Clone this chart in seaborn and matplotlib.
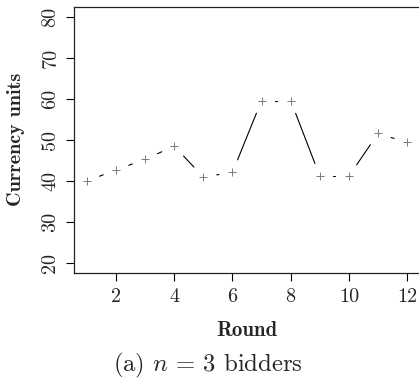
import numpy as np
import pandas as pd
import matplotlib
matplotlib.use("Agg")
import matplotlib.pyplot as plt
import seaborn as sns

# Mean bid per round, three-bidder sessions
rounds = [1, 2, 3, 4, 5, 6, 7, 8, 9, 10, 11, 12]
bids = [40.0, 42.7, 45.3, 48.5, 41.0, 42.1, 59.6, 59.6, 41.2, 41.2, 51.6, 49.4]
x_ticks = [2, 4, 6, 8, 10, 12]
y_ticks = [20, 30, 40, 50, 60, 70, 80]

sns.set_style("ticks")
plt.rcParams["font.family"] = ["cmr10"]
plt.rcParams["mathtext.fontset"] = "cm"
plt.rcParams["axes.formatter.use_mathtext"] = True

W, H = 419, 383
fig = plt.figure(figsize=(W / 100, H / 100), dpi=100)
ax = fig.add_axes([74 / W, 1 - 273 / H, (420 - 74) / W, (273 - 7) / H])

df = pd.DataFrame({"Round": rounds, "Bid": bids})
sns.scatterplot(data=df, x="Round", y="Bid", marker="+", s=32, color="#7a7a7a",
                linewidth=0.7, ax=ax, zorder=3)

ax.set_xlim(1 - 0.04 * 11, 12 + 0.04 * 11)
ax.set_ylim(20 - 0.04 * 60, 80 + 0.04 * 60)

# R-style "type = b": connecting segments that stop short of each point
fig.canvas.draw()
gap = 13.6
pts = ax.transData.transform(np.column_stack([rounds, bids]))
inv = ax.transData.inverted()
for p, q in zip(pts[:-1], pts[1:]):
    d = q - p
    L = np.hypot(*d)
    if L <= 2 * gap:
        continue
    u = d / L
    a = inv.transform(p + u * gap)
    b = inv.transform(q - u * gap)
    ax.plot([a[0], b[0]], [a[1], b[1]], color="black", lw=0.8, zorder=2)

ax.set_xticks(x_ticks)
ax.set_yticks(y_ticks)
ax.set_xticklabels([str(v) for v in x_ticks], fontsize=14.5)
ax.set_yticklabels([str(v) for v in y_ticks], fontsize=14.5, rotation=90, va="center")
ax.tick_params(axis="both", length=5.5, width=0.8, color="black", pad=5)

for s in ["left", "bottom", "top", "right"]:
    ax.spines[s].set_visible(True)
    ax.spines[s].set_linewidth(0.9)
    ax.spines[s].set_color("#222222")

ax.set_xlabel("Round", fontsize=15, fontfamily="cmb10", va="center", ha="center")
ax.set_ylabel("Currency units", fontsize=14.5, fontfamily="cmb10", va="center", ha="center")
ax.xaxis.set_label_coords((246.7 - 74) / 346, (273 - 330) / 266)
ax.yaxis.set_label_coords((16 - 74) / 346, (273 - 139) / 266)

fig.text(208 / W, 1 - 365 / H, r"(a) $n\,=\,3$ bidders", fontsize=17.8,
         ha="center", va="center")

fig.savefig("out.png", dpi=100)
